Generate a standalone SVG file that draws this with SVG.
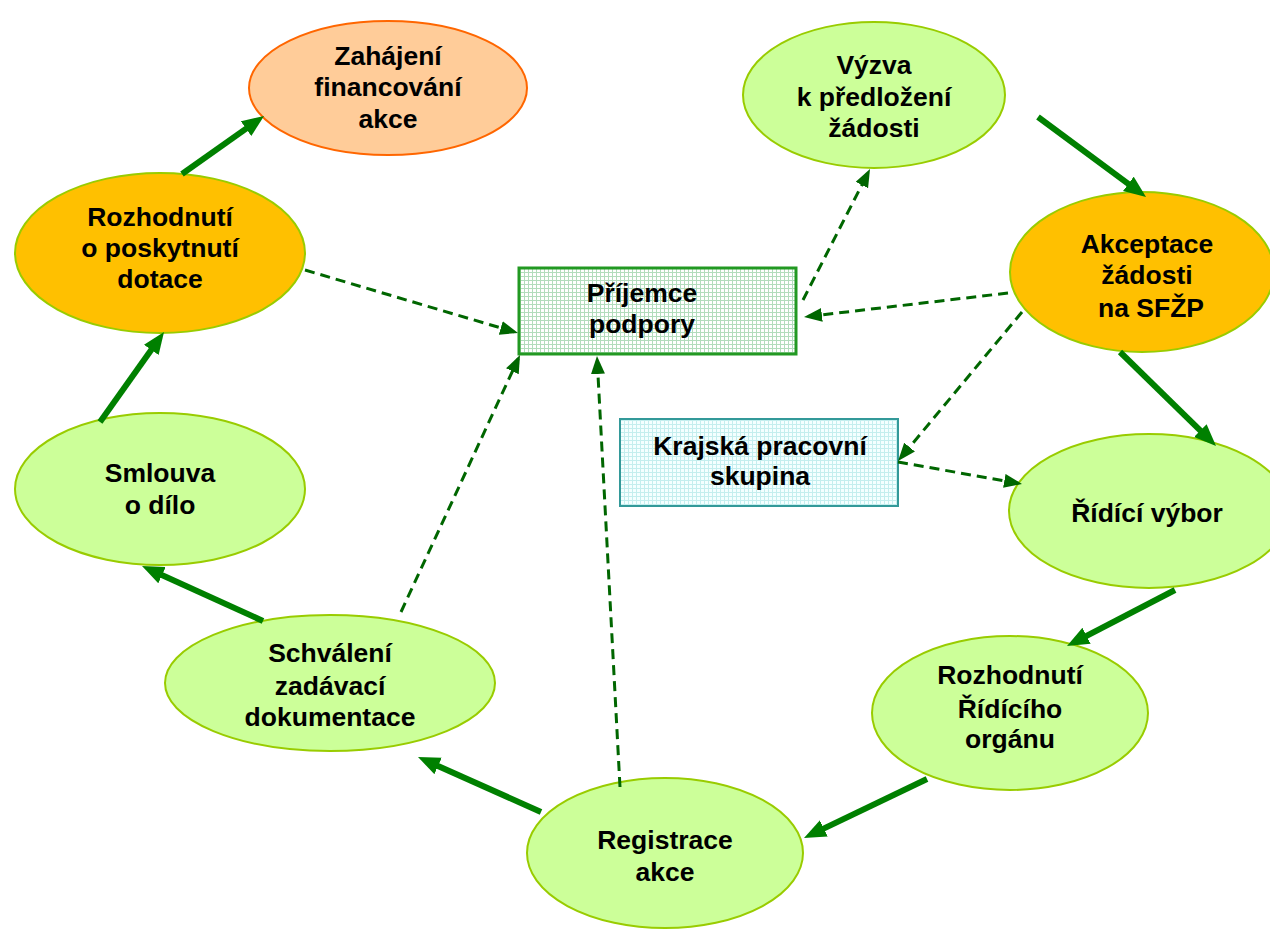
<svg xmlns="http://www.w3.org/2000/svg" width="1270" height="930" viewBox="0 0 1270 930">
<defs>
<style>
.t{font-family:"Liberation Sans",Arial,sans-serif;font-weight:bold;font-size:26.5px;fill:#000;text-anchor:middle}
.g{fill:#CCFF99;stroke:#99CC00;stroke-width:2}
.o{fill:#FFC000;stroke:#99CC00;stroke-width:2}
.p{fill:#FFCC99;stroke:#FF6600;stroke-width:2}
.s{fill:none;stroke:#008000;stroke-width:6;marker-end:url(#ah)}
.d{fill:none;stroke:#006600;stroke-width:3;stroke-dasharray:10 6;marker-end:url(#dh)}
</style>
<marker id="ah" markerUnits="userSpaceOnUse" markerWidth="24" markerHeight="20" refX="13" refY="9" orient="auto">
<path d="M0,0 L22,9 L0,18 z" fill="#008000"/>
</marker>
<marker id="dh" markerUnits="userSpaceOnUse" markerWidth="20" markerHeight="16" refX="14" refY="7" orient="auto">
<path d="M0,0 L18,7 L0,14 z" fill="#006600"/>
</marker>
<pattern id="gp" width="4" height="4" patternUnits="userSpaceOnUse">
<rect width="4" height="4" fill="#ffffff"/>
<path d="M0,0.5 H4 M0.5,0 V4" stroke="#b2dcbc" stroke-width="1"/>
</pattern>
<pattern id="cp" width="4" height="4" patternUnits="userSpaceOnUse">
<rect width="4" height="4" fill="#f4ffff"/>
<path d="M0,0.5 H4 M0.5,0 V4" stroke="#c4eeee" stroke-width="1"/>
</pattern>
</defs>
<rect width="1270" height="930" fill="#ffffff"/>

<g id="zahajeni">
<ellipse class="p" cx="388" cy="88" rx="139" ry="67"/>
<text class="t" x="388" y="65">Zahájení</text>
<text class="t" x="388" y="96">financování</text>
<text class="t" x="388" y="128">akce</text>
</g>
<g id="vyzva">
<ellipse class="g" cx="874" cy="95" rx="131" ry="73"/>
<text class="t" x="874" y="74">Výzva</text>
<text class="t" x="874" y="106">k předložení</text>
<text class="t" x="874" y="137">žádosti</text>
</g>
<g id="rozhodnuti-dotace">
<ellipse class="o" cx="160" cy="253" rx="145" ry="80"/>
<text class="t" x="160" y="226">Rozhodnutí</text>
<text class="t" x="160" y="257">o poskytnutí</text>
<text class="t" x="160" y="288">dotace</text>
</g>
<g id="akceptace">
<ellipse class="o" cx="1142" cy="272" rx="132" ry="80"/>
<text class="t" x="1147" y="253">Akceptace</text>
<text class="t" x="1147" y="284">žádosti</text>
<text class="t" x="1151" y="317">na SFŽP</text>
</g>
<g id="prijemce">
<rect x="519" y="268" width="277" height="86" fill="url(#gp)" stroke="#229922" stroke-width="3"/>
<text class="t" x="642" y="302">Příjemce</text>
<text class="t" x="642" y="333">podpory</text>
</g>
<g id="krajska">
<rect x="620" y="419" width="278" height="87" fill="url(#cp)" stroke="#339999" stroke-width="2"/>
<text class="t" x="760" y="455">Krajská pracovní</text>
<text class="t" x="760" y="485">skupina</text>
</g>
<g id="smlouva">
<ellipse class="g" cx="160" cy="489" rx="145" ry="76"/>
<text class="t" x="160" y="482">Smlouva</text>
<text class="t" x="160" y="514">o dílo</text>
</g>
<g id="ridici-vybor">
<ellipse class="g" cx="1149" cy="511" rx="140" ry="77"/>
<text class="t" x="1147" y="522">Řídící výbor</text>
</g>
<g id="schvaleni">
<ellipse class="g" cx="330" cy="683" rx="165" ry="68"/>
<text class="t" x="330" y="662">Schválení</text>
<text class="t" x="330" y="695">zadávací</text>
<text class="t" x="330" y="726">dokumentace</text>
</g>
<g id="rozhodnuti-ro">
<ellipse class="g" cx="1010" cy="713" rx="138" ry="77"/>
<text class="t" x="1010" y="684">Rozhodnutí</text>
<text class="t" x="1010" y="718">Řídícího</text>
<text class="t" x="1010" y="748">orgánu</text>
</g>
<g id="registrace">
<ellipse class="g" cx="665" cy="853" rx="138" ry="75"/>
<text class="t" x="665" y="849">Registrace</text>
<text class="t" x="665" y="881">akce</text>
</g>

<g id="connectors">
<path class="s" d="M182,174 L256.7,121.2"/>
<path class="s" d="M100,422 L158.8,339.3"/>
<path class="s" d="M263,621 L150.2,569.7"/>
<path class="s" d="M541,812 L426.2,760.7"/>
<path class="s" d="M927,779 L812.1,834.1"/>
<path class="s" d="M1175,590 L1075,641.8"/>
<path class="s" d="M1120,352 L1209.6,439.7"/>
<path class="s" d="M1038,117 L1138.8,191.6"/>
<path class="d" d="M305,270 L514.2,331.9"/>
<path class="d" d="M401,612 L518.3,358.6"/>
<path class="d" d="M620,787 L597.2,360"/>
<path class="d" d="M803,300 L868.2,172.6"/>
<path class="d" d="M1008,293 L808,316.5"/>
<path class="d" d="M1022,312 L900.6,457.9"/>
<path class="d" d="M898,462 L1018.1,483.3"/>
</g>
</svg>
